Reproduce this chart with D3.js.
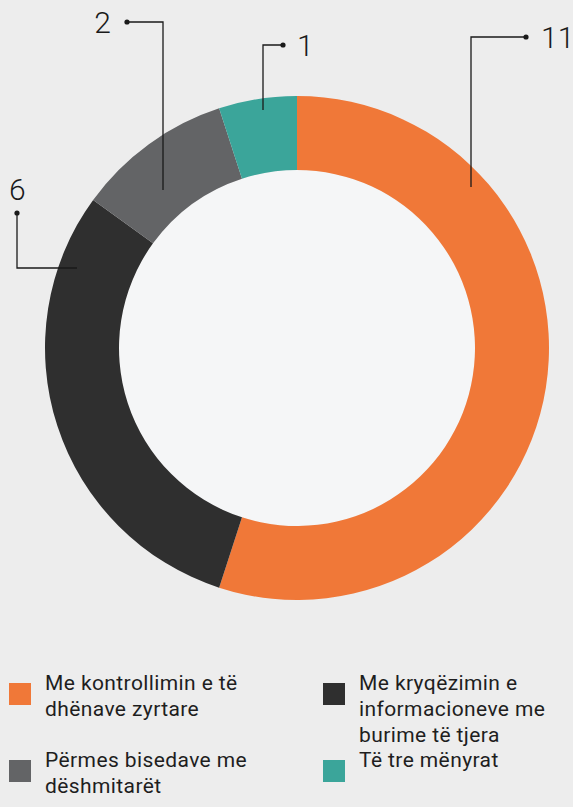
<!DOCTYPE html>
<html>
<head>
<meta charset="utf-8">
<script src="https://cdn.jsdelivr.net/npm/d3@7"></script>
<style>
  body { margin: 0; background: #ededed; }
  svg { display: block; }
  .lbl { font-family: Roboto, sans-serif; font-weight: 300; font-size: 30px; fill: #1a1a1a; }
  .leg { font-family: Roboto, sans-serif; font-weight: 400; font-size: 21px; letter-spacing: 0.4px; fill: #1e1e1e; }
</style>
</head>
<body>
<svg id="chart" width="573" height="807"></svg>
<script>
const categories = [
  'Me kontrollimin e të dhënave zyrtare',
  'Me kryqëzimin e informacioneve me burime të tjera',
  'Përmes bisedave me dëshmitarët',
  'Të tre mënyrat'
];
const values = [11, 6, 2, 1];
const colors = ['#f07838', '#2f2f2f', '#636466', '#3ba59a'];
const legendLines = [
  ['Me kontrollimin e të', 'dhënave zyrtare'],
  ['Me kryqëzimin e', 'informacioneve me', 'burime të tjera'],
  ['Përmes bisedave me', 'dëshmitarët'],
  ['Të tre mënyrat']
];

const svg = d3.select('#chart');
const cx = 297, cy = 348, outerR = 252, innerR = 178;

const g = svg.append('g').attr('transform', `translate(${cx},${cy})`);

g.append('circle').attr('r', innerR).attr('fill', '#f5f6f7');

const pie = d3.pie().sort(null).value(d => d);
const arcs = pie(values);
const arc = d3.arc().innerRadius(innerR).outerRadius(outerR);

g.selectAll('.slice')
  .data(arcs)
  .join('path')
  .attr('class', 'slice')
  .attr('fill', (d, i) => colors[i])
  .attr('d', arc);

// elbow callouts, in page coordinates: line points, dot, label
const callouts = [
  { pts: [[471, 187], [471, 37], [526, 37]], label: [541, 48, 'start'] },
  { pts: [[77, 268], [17, 268], [17, 213]], label: [9, 200, 'start'] },
  { pts: [[163, 190], [163, 22], [127, 22]], label: [111, 33, 'end'] },
  { pts: [[263, 110], [263, 45], [283, 45]], label: [297, 56, 'start'] }
];

const lines = svg.append('g');
callouts.forEach((c, i) => {
  const dot = c.pts[c.pts.length - 1];
  lines.append('path')
    .attr('d', d3.line()(c.pts))
    .attr('fill', 'none')
    .attr('stroke', '#1a1a1a')
    .attr('stroke-width', 1.3);
  lines.append('circle')
    .attr('cx', dot[0]).attr('cy', dot[1]).attr('r', 2.6)
    .attr('fill', '#1a1a1a');
  lines.append('text')
    .attr('class', 'lbl')
    .attr('x', c.label[0]).attr('y', c.label[1])
    .attr('text-anchor', c.label[2])
    .text(values[i]);
});

// legend
const legendPos = [[9, 683], [323, 683], [9, 760], [323, 760]];
const leg = svg.append('g');
categories.forEach((c, i) => {
  const [x, y] = legendPos[i];
  const item = leg.append('g').attr('transform', `translate(${x},${y})`);
  item.append('rect').attr('width', 22).attr('height', 22).attr('fill', colors[i]);
  const t = item.append('text').attr('class', 'leg').attr('x', 36).attr('y', 7);
  legendLines[i].forEach((line, j) => {
    t.append('tspan').attr('x', 36).attr('dy', j === 0 ? 0 : 26).text(line);
  });
});
</script>
</body>
</html>
